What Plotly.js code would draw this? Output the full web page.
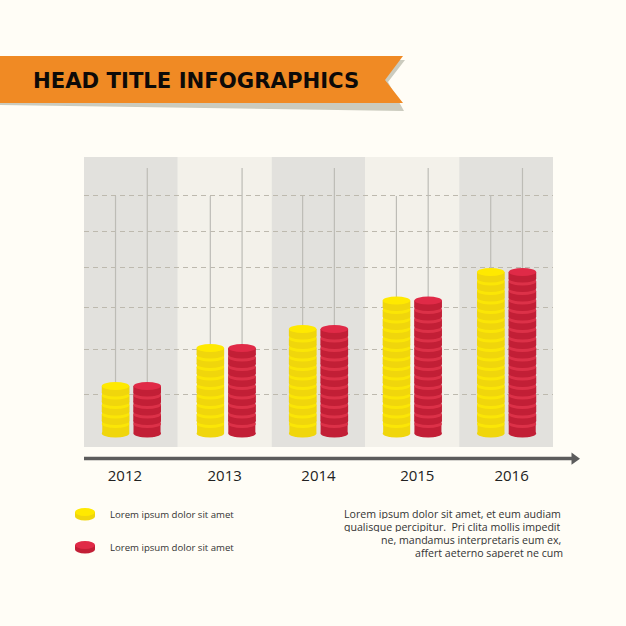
<!DOCTYPE html>
<html><head><meta charset="utf-8">
<script src="https://cdn.plot.ly/plotly-3.0.1.min.js"></script>
<style>html,body{margin:0;padding:0;background:#fffdf6}</style></head>
<body><div id="chart" style="width:626px;height:626px"></div>
<script>
// ---- data ----
const years = ['2012','2013','2014','2015','2016'];
const yellowCoins = [5,9,11,14,17];
const redCoins = [5,9,11,14,17];
const yellowPoleTop = [25,25,25,25,25.1];
const redPoleTop = [27.95,27.95,27.95,27.95,27.95];
const gridLevels = [4.15,8.8,13.3,17.5,21.3,25.1];
const yearLabelShift = [-6,0,0,5,5.5];
const groupNudge = [0.5,1.5,0,0,0.5];
const titleText = 'HEAD TITLE INFOGRAPHICS';
const legendLabels = ['Lorem ipsum dolor sit amet','Lorem ipsum dolor sit amet'];
const bodyLines = ['Lorem ipsum dolor sit amet, et eum audiam','qualisque percipitur.  Pri clita mollis impedit','ne, mandamus interpretaris eum ex,','affert aeterno saperet ne cum'];

// ---- styling ----
const W=626,H=626;
const plotL=84,plotR=553,plotT=157,plotB=447;
const coinPx=9.5, basePx=433.5;
const bandW=(plotR-plotL)/5;
const slot=0.3385, barW=0.293;
const ry=4/coinPx, gap=3/coinPx;
const yel={body:'#f0d60c',ridge:'#fbe606',top:'#ffe900'};
const red={body:'#c21f36',ridge:'#dc3148',top:'#e02a47'};
const fx=v=>v/W, fy=v=>1-v/H;
const paperPath=pts=>'M'+pts.map(p=>fx(p[0])+','+fy(p[1])).join(' L')+' Z';
const shapes=[];
const cx=years.map((y,i)=>i+groupNudge[i]/bandW);

// bands (paper-referenced so they sit under the grid)
years.forEach((y,i)=>shapes.push({type:'rect',xref:'paper',yref:'paper',layer:'below',
  x0:fx(plotL+i*bandW),x1:fx(plotL+(i+1)*bandW),y0:fy(plotB),y1:fy(plotT),
  fillcolor:i%2?'#f3f1ea':'#e2e1dd',line:{width:0}}));

// ribbon
shapes.push({type:'path',xref:'paper',yref:'paper',layer:'below',
  path:paperPath([[0,60],[405,60],[388,82],[404,111],[0,105]]),fillcolor:'#cbcbbe',line:{width:0}});
shapes.push({type:'path',xref:'paper',yref:'paper',layer:'below',
  path:paperPath([[0,56],[403,56],[385,80],[403,103],[0,103]]),fillcolor:'#f08a24',line:{width:0}});

// arrow axis
shapes.push({type:'line',xref:'paper',yref:'paper',x0:fx(84),x1:fx(574),y0:fy(458.5),y1:fy(458.5),line:{color:'#5c5c5c',width:3.3}});
shapes.push({type:'path',xref:'paper',yref:'paper',path:paperPath([[571.5,452.5],[580,458.7],[571.5,464.7]]),fillcolor:'#5c5c5c',line:{width:0}});

// coins
function ell(xc,v,c){shapes.push({type:'circle',xref:'x',yref:'y',x0:xc-barW/2,x1:xc+barW/2,y0:v-ry,y1:v+ry,fillcolor:c,line:{width:0}});}
function stack(xc,n,col){
  ell(xc,0,col.body);
  for(let i=1;i<=n;i++){
    if(i<n){
      ell(xc,i,col.ridge);
      ell(xc,i+gap,col.body);
      shapes.push({type:'rect',xref:'x',yref:'y',x0:xc-barW/2,x1:xc+barW/2,y0:i+gap,y1:i+1,fillcolor:col.body,line:{width:0}});
    } else ell(xc,i,col.top);
  }
}
years.forEach((y,i)=>{stack(cx[i]-slot/2,yellowCoins[i],yel);stack(cx[i]+slot/2,redCoins[i],red);});

// legend coins (drawn on paper)
function legendCoin(cy,col){
  shapes.push({type:'circle',xref:'paper',yref:'paper',x0:fx(75),x1:fx(95),y0:fy(cy+6.5),y1:fy(cy-1.5),fillcolor:col.body,line:{width:0}});
  shapes.push({type:'rect',xref:'paper',yref:'paper',x0:fx(75),x1:fx(95),y0:fy(cy+2.5),y1:fy(cy-2),fillcolor:col.body,line:{width:0}});
  shapes.push({type:'circle',xref:'paper',yref:'paper',x0:fx(75),x1:fx(95),y0:fy(cy+2),y1:fy(cy-6),fillcolor:col.top,line:{width:0}});
}
legendCoin(514,yel);legendCoin(547,red);

// poles
function poleTrace(off,tops,ns){
  const xs=[],ys=[];
  years.forEach((y,i)=>{xs.push(cx[i]+off,cx[i]+off,null);ys.push(tops[i],ns[i],null);});
  return {type:'scatter',mode:'lines',x:xs,y:ys,line:{color:'#bdbcb6',width:1.2},hoverinfo:'skip',showlegend:false};
}
const traces=[
  {type:'bar',x:cx,y:yellowCoins,name:'Yellow',marker:{color:yel.body,line:{width:0}},showlegend:false},
  {type:'bar',x:cx,y:redCoins,name:'Red',marker:{color:red.body,line:{width:0}},showlegend:false},
  poleTrace(-slot/2,yellowPoleTop,yellowCoins),
  poleTrace(slot/2,redPoleTop,redCoins)
];

// text
const ann=[];
function txt(t,x,y,size,anchor,color,family,weight,h){
  const a={xref:'paper',yref:'paper',x:fx(x),y:fy(y),text:t,showarrow:false,xanchor:anchor,yanchor:'middle',
    align:anchor,borderpad:0,font:{size:size,color:color,family:family,weight:weight||400}};
  if(h)a.height=h;
  ann.push(a);
}
txt(titleText,32,80.5,21.2,'left','#0d0a08','DejaVu Sans',700);
txt(legendLabels[0],109,514.5,9.6,'left','#333','Open Sans');
txt(legendLabels[1],109,547,9.6,'left','#333','Open Sans');
const lineY=[513,526,539,552], lineR=[561.5,561.5,561.5,563.5];
bodyLines.forEach((l,i)=>txt(l,lineR[i],lineY[i],10.6,'right','#333','Open Sans',400,11));

const layout={
  width:W,height:H,margin:{l:0,r:0,t:0,b:0},
  paper_bgcolor:'#fffdf6',plot_bgcolor:'rgba(0,0,0,0)',
  barmode:'group',bargap:1-2*slot,bargroupgap:1-barW/slot,showlegend:false,
  xaxis:{domain:[plotL/W,plotR/W],range:[-0.5,4.5],tickvals:years.map((y,i)=>i+yearLabelShift[i]/bandW),ticktext:years,
    ticks:'',showgrid:false,zeroline:false,showline:false,ticklabelstandoff:18,
    tickfont:{size:15,color:'#222',family:'Open Sans'},tickangle:0},
  yaxis:{domain:[1-plotB/H,1-plotT/H],range:[(basePx-plotB)/coinPx,(basePx-plotT)/coinPx],
    tickvals:gridLevels,showticklabels:false,ticks:'',showgrid:true,griddash:'5px,4px',gridcolor:'#bdb9ae',gridwidth:1,zeroline:false,showline:false},
  shapes:shapes,annotations:ann
};
Plotly.newPlot('chart',traces,layout,{displayModeBar:false,staticPlot:true});
</script></body></html>
